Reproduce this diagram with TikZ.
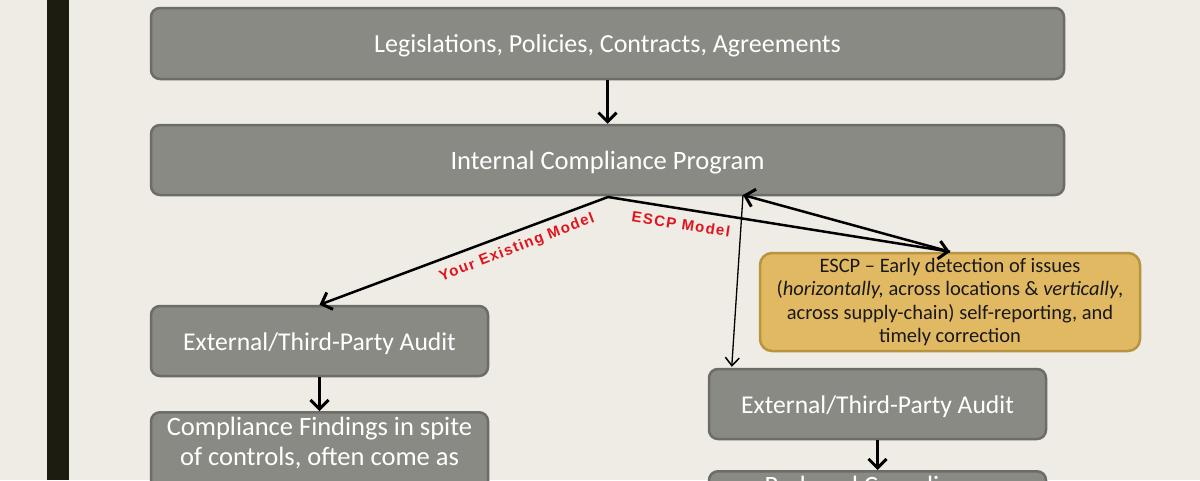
\documentclass[tikz,border=0pt]{standalone}
\usepackage{fontspec}
\setmainfont{Carlito}
\newfontfamily\arialfont[LetterSpace=9]{Liberation Sans}
\usetikzlibrary{arrows.meta,calc}
\definecolor{bg}{HTML}{EEECE4}
\definecolor{barcol}{HTML}{1C1C10}
\definecolor{boxfill}{HTML}{8A8A85}
\definecolor{boxline}{HTML}{6C6C68}
\definecolor{goldfill}{HTML}{E2B963}
\definecolor{goldline}{HTML}{B89440}
\definecolor{labelred}{HTML}{E0141E}
\tikzset{
  graybox/.style={draw=boxline, fill=boxfill, line width=2.5pt, rounded corners=9pt, text=white, align=center, inner sep=0pt},
  oneline/.style={text height=18pt, text depth=0pt},
  goldbox/.style={draw=goldline, fill=goldfill, line width=2.5pt, rounded corners=12pt, text=black!90, align=center, inner sep=0pt},
  boxtext/.style={text=white, align=center, inner sep=0pt, font=\fontsize{26.5}{30}\selectfont},
  thickarrow/.style={line width=2.5pt, -{Straight Barb[length=9pt,width=18pt,line width=3pt]}},
  thinarrow/.style={line width=1.3pt, -{Straight Barb[length=8pt,width=14pt,line width=1.5pt]}},
  redlabel/.style={text=labelred, font=\arialfont\bfseries\fontsize{15}{16}\selectfont, inner sep=0pt}
}
\begin{document}
\begin{tikzpicture}[x=1pt,y=-1pt]
\useasboundingbox (0,0) rectangle (1200,480);
\fill[bg] (0,0) rectangle (1200,480);
\clip (0,0) rectangle (1200,480);
\fill[barcol] (47,0) rectangle (69,480);

\node[graybox, oneline, minimum width=913pt, minimum height=71pt, font=\fontsize{26}{28}\selectfont] (legis) at (607.5,43.5) {Legislations, Policies, Contracts, Agreements};
\node[graybox, oneline, minimum width=913pt, minimum height=70pt, font=\fontsize{26.5}{28}\selectfont] (icp) at (607.5,160) {Internal Compliance Program};

\node[graybox, oneline, minimum width=337pt, minimum height=70pt, font=\fontsize{25.6}{28}\selectfont] (ext1) at (319.5,341) {External/Third-Party Audit};
\node[graybox, anchor=north, minimum width=337pt, minimum height=120pt] (findings) at (319.5,411) {};
\node[boxtext, anchor=north] (findtext) at ($(findings.north)+(0,6)$) {Compliance Findings in spite\\of controls, often come as};

\node[goldbox, minimum width=380pt, minimum height=98pt, font=\fontsize{20.5}{23.5}\selectfont] (escp) at (950,302) {ESCP -- Early detection of issues\\(\textit{horizontally,} across locations \& \textit{vertically},\\across supply-chain) self-reporting, and\\timely correction};

\node[graybox, oneline, minimum width=337pt, minimum height=70pt, font=\fontsize{25.6}{28}\selectfont] (ext2) at (877.5,404) {External/Third-Party Audit};
\node[graybox, anchor=north, minimum width=337pt, minimum height=80pt] (reduced) at (877.5,470) {};
\node[boxtext, anchor=north] (redtext) at ($(reduced.north)+(0,6)$) {Reduced Compliance};

\coordinate (split) at (608,197);
\coordinate (branch) at (743,195);

\draw[thickarrow] (legis.south) -- (icp.north);
\draw[thickarrow] (split) -- (ext1.north);
\draw[thickarrow] (split) -- (escp.north);
\draw[thickarrow] (escp.north) -- (branch);
\draw[thinarrow] (branch) -- ($(ext2.north west)+(24,-1)$);
\draw[thickarrow] (ext1.south) -- (findings.north);
\draw[thickarrow] (ext2.south) -- (reduced.north);

\node[redlabel, rotate=21.2] (lblA) at (517,248) {Your Existing Model};
\node[redlabel, rotate=-8.8] (lblB) at (681,224) {ESCP Model};
\end{tikzpicture}
\end{document}
